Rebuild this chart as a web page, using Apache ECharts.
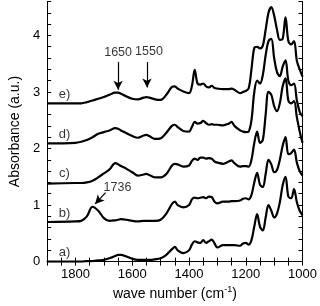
<!DOCTYPE html>
<html><head><meta charset="utf-8">
<script src="https://cdn.jsdelivr.net/npm/echarts@6/dist/echarts.min.js"></script>
<style>html,body{margin:0;padding:0;background:#fff}#c{width:320px;height:306px}</style>
</head><body><div id="c"></div>
<script>
const wavenumbers = [1900,1800,1780,1760,1740,1720,1700,1680,1660,1650,1640,1620,1600,1580,1560,1550,1540,1520,1500,1480,1460,1450,1440,1420,1400,1390,1380,1370,1360,1350,1340,1330,1320,1310,1300,1280,1260,1250,1240,1220,1210,1200,1190,1180,1170,1160,1150,1140,1130,1120,1110,1100,1090,1080,1070,1060,1050,1040,1030,1020,1010,1000];
const seriesA = [0.0,0.0,0.0,0.01,0.01,0.02,0.03,0.06,0.10,0.12,0.12,0.09,0.05,0.03,0.03,0.03,0.03,0.04,0.06,0.12,0.22,0.26,0.20,0.15,0.20,0.30,0.36,0.34,0.33,0.38,0.33,0.36,0.39,0.32,0.25,0.29,0.29,0.29,0.29,0.28,0.32,0.33,0.30,0.38,0.62,0.84,0.62,0.55,0.78,1.00,0.90,0.78,0.85,1.05,1.35,1.50,1.15,1.12,1.28,1.05,0.90,0.82];
const seriesB = [0.70,0.71,0.72,0.80,0.97,0.90,0.77,0.72,0.73,0.74,0.75,0.74,0.72,0.71,0.72,0.72,0.72,0.72,0.74,0.85,1.02,1.06,1.00,0.96,1.00,1.10,1.13,1.12,1.13,1.14,1.12,1.15,1.14,1.06,1.03,1.06,1.06,1.07,1.07,1.08,1.11,1.12,1.10,1.18,1.40,1.57,1.36,1.32,1.55,1.80,1.72,1.58,1.62,1.80,2.05,2.20,1.90,1.92,1.98,1.75,1.60,1.52];
const seriesC = [1.38,1.39,1.39,1.40,1.43,1.49,1.56,1.63,1.74,1.72,1.69,1.64,1.58,1.52,1.54,1.55,1.53,1.49,1.49,1.55,1.70,1.73,1.72,1.68,1.70,1.78,1.82,1.80,1.84,1.84,1.82,1.83,1.82,1.77,1.75,1.73,1.77,1.79,1.74,1.68,1.69,1.69,1.68,1.80,2.10,2.30,2.10,2.15,2.60,3.00,2.95,2.75,2.66,2.80,3.10,3.24,2.85,2.80,2.84,2.55,2.30,2.10];
const seriesD = [2.09,2.10,2.12,2.15,2.20,2.26,2.29,2.32,2.36,2.35,2.32,2.27,2.22,2.19,2.23,2.24,2.22,2.17,2.18,2.28,2.40,2.42,2.38,2.31,2.30,2.38,2.47,2.44,2.45,2.49,2.45,2.42,2.43,2.42,2.42,2.41,2.44,2.47,2.40,2.32,2.30,2.29,2.30,2.50,3.00,3.20,3.15,3.30,3.65,3.90,3.94,3.60,3.35,3.28,3.45,3.56,3.20,3.12,3.15,2.85,2.65,2.57];
const seriesE = [2.80,2.80,2.80,2.82,2.85,2.88,2.91,2.95,2.99,2.99,2.97,2.92,2.88,2.87,2.90,2.91,2.90,2.87,2.86,2.95,3.09,3.10,3.06,3.01,2.98,3.10,3.39,3.15,3.13,3.15,3.10,3.08,3.11,3.07,3.06,3.05,3.05,3.06,3.04,2.98,3.00,3.02,3.06,3.40,3.78,3.80,3.77,3.82,4.10,4.40,4.50,4.35,4.10,3.92,3.94,4.32,3.90,3.84,3.90,3.55,3.40,3.27];
const curveNames = ['a)','b)','c)','d)','e)'];
const curveLabelPos = [[1839,0.16],[1839,0.86],[1839,1.56],[1839,2.25],[1839,2.95]];
const xTickLabels = [1800,1600,1400,1200,1000];
const yTickLabels = [0,1,2,3,4];
const peakLabels = [{text:'1650',at:[1650,3.70],from:[1650,3.53],to:[1650,3.04]},{text:'1550',at:[1541,3.72],from:[1548,3.53],to:[1548,3.08]},{text:'1736',at:[1652,1.31],from:[1694,1.22],to:[1731,1.02]}];

const FONT = '"Liberation Sans", Arial, sans-serif';
const allSeries = [seriesA,seriesB,seriesC,seriesD,seriesE];
const chart = echarts.init(document.getElementById('c'), null, {renderer:'canvas'});
const axisCommon = {
  axisLine:{show:true,lineStyle:{color:'#000',width:1}},
  axisTick:{show:true,inside:true,length:4,lineStyle:{color:'#000',width:1}},
  splitLine:{show:false}
};
const series = allSeries.map((vals,i)=>({
  type:'line', name:curveNames[i], showSymbol:false, smooth:0.35,
  lineStyle:{color:'#000',width:2.2}, itemStyle:{color:'#000'},
  data: wavenumbers.map((w,k)=>[w,vals[k]]),
  silent:true, animation:false
}));
series.push({
  type:'scatter', symbolSize:0, silent:true, animation:false,
  data: curveLabelPos.map((p,i)=>({value:p, label:{show:true,formatter:curveNames[i],position:'inside',color:'#000',fontSize:13,fontFamily:FONT}})).concat(
    peakLabels.map(p=>({value:p.at, label:{show:true,formatter:p.text,position:'inside',color:'#000',fontSize:12.5,fontFamily:FONT}}))
  ),
  markLine:{
    silent:true, animation:false, symbol:['none','arrow'], symbolSize:[7,9],
    lineStyle:{color:'#000',width:1.2,type:'solid'}, label:{show:false},
    data: peakLabels.map(p=>[{coord:p.from},{coord:p.to}])
  }
});
chart.setOption({
  animation:false,
  grid:{left:39.5,right:16,top:1.5,bottom:41,containLabel:false},
  xAxis:[
    Object.assign({type:'value',min:1000,max:1900,interval:50,inverse:true,position:'bottom',
      name:'wave number (cm{sup|-1})',nameLocation:'middle',nameGap:20,
      nameTextStyle:{color:'#000',fontSize:14,fontFamily:FONT,verticalAlign:'top',rich:{sup:{fontSize:9,verticalAlign:'top',padding:[0,0,8,0],fontFamily:FONT,color:'#000'}}},
      axisLabel:{color:'#000',fontSize:13,fontFamily:FONT,margin:6,formatter:v=>xTickLabels.includes(v)?String(v):''}
    },axisCommon),
    Object.assign({type:'value',min:1000,max:1900,interval:50,inverse:true,position:'top',axisLabel:{show:false}},axisCommon)
  ],
  yAxis:[
    Object.assign({type:'value',min:0,max:4.6,interval:0.2,position:'left',
      name:'Absorbance (a.u.)',nameLocation:'middle',nameGap:21,
      nameTextStyle:{color:'#000',fontSize:14,fontFamily:FONT},
      axisLabel:{color:'#000',fontSize:13,fontFamily:FONT,margin:7,formatter:v=>{const r=Math.round(v*10)/10;return yTickLabels.includes(r)&&Math.abs(v-r)<1e-6?String(r):'';}}
    },axisCommon),
    Object.assign({type:'value',min:0,max:4.6,interval:0.2,position:'right',axisLabel:{show:false}},axisCommon)
  ],
  series: series
});
</script></body></html>
